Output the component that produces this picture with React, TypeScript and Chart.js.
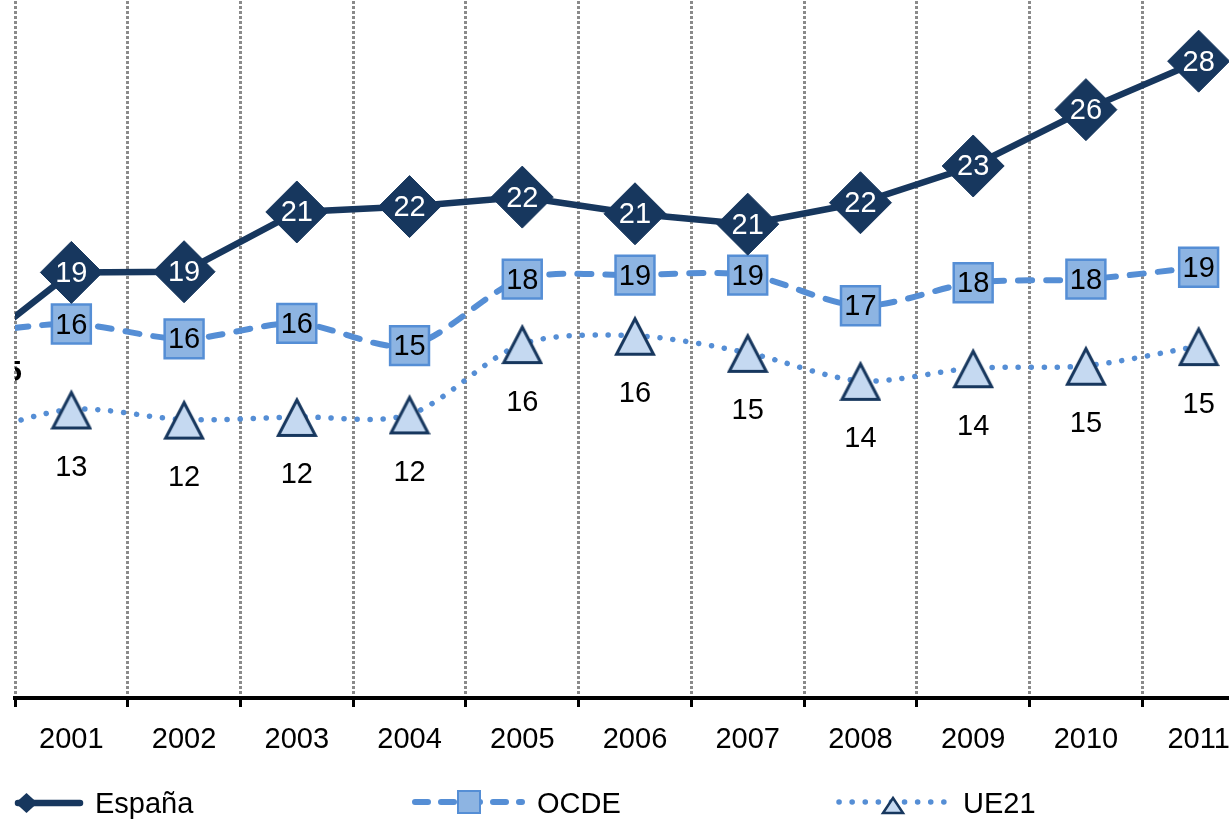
import React, { useEffect, useRef } from "react";
import { Chart, registerables } from "chart.js";

Chart.register(...registerables);

// ---- data ----
const years = ["2000", "2001", "2002", "2003", "2004", "2005", "2006", "2007", "2008", "2009", "2010", "2011"];
const seriesNames = ["España", "OCDE", "UE21"];
const espana = [14.8, 18.73, 18.76, 21.41, 21.65, 22.07, 21.33, 20.87, 21.82, 23.45, 25.95, 28.1];
const ocde = [15.97, 16.44, 15.78, 16.47, 15.48, 18.43, 18.61, 18.61, 17.25, 18.27, 18.43, 18.96];
const ue21 = [11.36, 12.65, 12.2, 12.32, 12.43, 15.55, 15.92, 15.16, 13.92, 14.48, 14.59, 15.46];
const firstShownYear = "2001";
const yMin = -0.15;
const yMax = 32.1;

// ---- style ----
const NAVY = "#17375E";
const MID = "#558ED5";
const SQFILL = "#8DB4E2";
const TRIFILL = "#C5D9F1";
const GRID = "#8a8a8a";
const FONT = '"Liberation Sans", Arial, sans-serif';
const FS = 29;

function makeTriangle(w: number, h: number, lw: number, fill: string, stroke: string) {
  const c = document.createElement("canvas");
  c.width = w;
  c.height = h;
  const g = c.getContext("2d")!;
  g.lineJoin = "miter";
  g.lineWidth = lw;
  g.beginPath();
  g.moveTo(w / 2, 4);
  g.lineTo(w - 2.5, h - 2.5);
  g.lineTo(2.5, h - 2.5);
  g.closePath();
  g.fillStyle = fill;
  g.fill();
  g.strokeStyle = stroke;
  g.stroke();
  return c;
}

const labelPlugin = {
  id: "valueLabels",
  afterDatasetsDraw(chart: any) {
    const ctx = chart.ctx as CanvasRenderingContext2D;
    const a = chart.chartArea;
    const all = [espana, ocde, ue21];
    ctx.save();
    ctx.beginPath();
    ctx.rect(a.left, a.top, a.right - a.left, a.bottom - a.top);
    ctx.clip();
    ctx.font = `${FS}px ${FONT}`;
    ctx.textAlign = "center";
    ctx.textBaseline = "middle";
    all.forEach((arr, di) => {
      const meta = chart.getDatasetMeta(di);
      meta.data.forEach((pt: any, i: number) => {
        if (i < 1) return;
        const txt = String(Math.round(arr[i]));
        if (di === 0) {
          ctx.fillStyle = "#ffffff";
          ctx.fillText(txt, pt.x, pt.y + 1.5);
        } else if (di === 1) {
          ctx.fillStyle = "#000000";
          ctx.fillText(txt, pt.x, pt.y + 1.5);
        } else {
          ctx.fillStyle = "#000000";
          ctx.fillText(txt, pt.x, pt.y + 58.5);
        }
      });
    });
    // partially visible label of the first (hidden) year
    const m0 = chart.getDatasetMeta(0).data[0] as any;
    if (m0) {
      ctx.font = `bold ${FS}px ${FONT}`;
      ctx.fillStyle = "#000000";
      ctx.textAlign = "right";
      ctx.fillText(String(Math.round(espana[0])), a.left + 7, m0.y + 12);
    }
    ctx.restore();
  },
  afterDraw(chart: any) {
    const ctx = chart.ctx as CanvasRenderingContext2D;
    const a = chart.chartArea;
    const y = a.bottom + 105;
    ctx.save();
    // España
    ctx.lineCap = "round";
    ctx.strokeStyle = NAVY;
    ctx.lineWidth = 6.5;
    ctx.beginPath();
    ctx.moveTo(18, y);
    ctx.lineTo(80, y);
    ctx.stroke();
    ctx.fillStyle = NAVY;
    ctx.beginPath();
    ctx.moveTo(15.5, y);
    ctx.lineTo(26.5, y - 10);
    ctx.lineTo(37.5, y);
    ctx.lineTo(26.5, y + 10);
    ctx.closePath();
    ctx.fill();
    // OCDE
    ctx.strokeStyle = MID;
    ctx.lineWidth = 6;
    ctx.setLineDash([13, 13]);
    ctx.beginPath();
    ctx.moveTo(415, y - 1);
    ctx.lineTo(522, y - 1);
    ctx.stroke();
    ctx.setLineDash([]);
    ctx.fillStyle = SQFILL;
    ctx.fillRect(458, y - 12, 22, 22);
    ctx.lineWidth = 2;
    ctx.strokeStyle = MID;
    ctx.strokeRect(458, y - 12, 22, 22);
    // UE21
    ctx.strokeStyle = MID;
    ctx.lineWidth = 5.5;
    ctx.setLineDash([0.1, 13]);
    ctx.beginPath();
    ctx.moveTo(839, y - 1);
    ctx.lineTo(945, y - 1);
    ctx.stroke();
    ctx.setLineDash([]);
    ctx.beginPath();
    ctx.moveTo(893, y - 5);
    ctx.lineTo(903, y + 10);
    ctx.lineTo(883, y + 10);
    ctx.closePath();
    ctx.fillStyle = TRIFILL;
    ctx.fill();
    ctx.lineWidth = 2.5;
    ctx.strokeStyle = NAVY;
    ctx.stroke();
    // texts
    ctx.font = `${FS}px ${FONT}`;
    ctx.fillStyle = "#000000";
    ctx.textAlign = "left";
    ctx.textBaseline = "middle";
    ctx.fillText(seriesNames[0], 95, y + 2);
    ctx.fillText(seriesNames[1], 537, y + 2);
    ctx.fillText(seriesNames[2], 963, y + 2);
    ctx.restore();
  },
};

export default function App() {
  const ref = useRef<HTMLCanvasElement | null>(null);
  useEffect(() => {
    if (!ref.current) return;
    const tri = makeTriangle(42, 42, 3, TRIFILL, NAVY);
    const chart = new Chart(ref.current, {
      type: "line",
      data: {
        labels: years,
        datasets: [
          {
            label: seriesNames[0],
            data: espana,
            borderColor: NAVY,
            borderWidth: 6.5,
            tension: 0,
            pointStyle: "rectRot",
            pointRadius: 31,
            pointBackgroundColor: NAVY,
            pointBorderColor: NAVY,
            pointBorderWidth: 1,
            clip: 0,
          },
          {
            label: seriesNames[1],
            data: ocde,
            borderColor: MID,
            borderWidth: 6,
            borderDash: [14, 14],
            borderCapStyle: "round",
            tension: 0.3,
            pointStyle: "rect",
            pointRadius: 27.5,
            pointBackgroundColor: SQFILL,
            pointBorderColor: MID,
            pointBorderWidth: 2.5,
            clip: 0,
          },
          {
            label: seriesNames[2],
            data: ue21,
            borderColor: MID,
            borderWidth: 5.5,
            borderDash: [0.1, 12.9],
            borderCapStyle: "round",
            tension: 0.3,
            pointStyle: tri as any,
            pointRadius: 21,
            clip: 0,
          },
        ] as any,
      },
      options: {
        responsive: false,
        animation: false,
        events: [],
        layout: { autoPadding: false, padding: { left: 15, right: 7, top: 0, bottom: 70 } },
        plugins: { legend: { display: false }, tooltip: { enabled: false } },
        scales: {
          x: {
            type: "category",
            min: firstShownYear,
            offset: true,
            afterFit: (s: any) => {
              s.height = 60;
            },
            grid: {
              offset: true,
              color: GRID,
              lineWidth: 3,
              drawTicks: true,
              tickLength: 9,
              tickColor: "#000000",
              tickWidth: 3,
              tickBorderDash: [],
            },
            border: { display: true, color: "#000000", width: 4, dash: [3, 2] },
            ticks: {
              color: "#000000",
              font: { family: FONT, size: FS },
              padding: 16,
              maxRotation: 0,
              autoSkip: false,
            },
          },
          y: {
            display: false,
            min: yMin,
            max: yMax,
          },
        },
      } as any,
      plugins: [labelPlugin],
    });
    return () => chart.destroy();
  }, []);
  return (
    <div
      style={{
        position: "fixed",
        left: 0,
        top: 0,
        width: 1229,
        height: 824,
        overflow: "hidden",
        background: "#ffffff",
      }}
    >
      <canvas ref={ref} width={1262} height={857} style={{ position: "absolute", left: 0, top: -29 }} />
    </div>
  );
}
